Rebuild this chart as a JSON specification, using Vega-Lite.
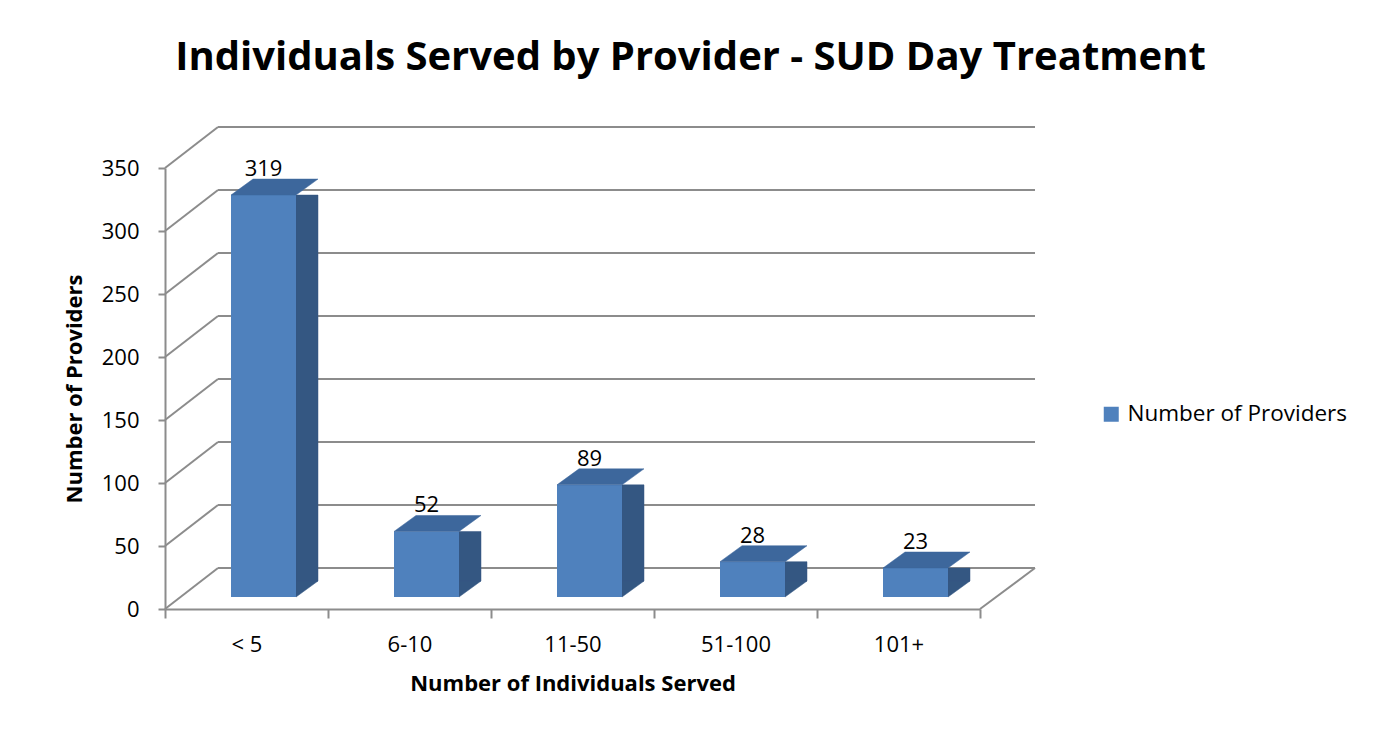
{
  "$schema": "https://vega.github.io/schema/vega-lite/v6.json",
  "width": 815,
  "height": 441,
  "autosize": {"type": "none"},
  "padding": {"left": 165, "top": 168, "right": 395, "bottom": 127},
  "background": "white",
  "config": {
    "view": {"stroke": null},
    "font": "Open Sans",
    "axis": {
      "labelFont": "Open Sans",
      "labelFontSize": 22,
      "labelColor": "#000000",
      "titleFont": "Open Sans",
      "titleFontSize": 22,
      "titleFontWeight": "bold",
      "titleColor": "#000000",
      "domainColor": "#8C8C8C",
      "domainWidth": 2,
      "tickColor": "#8C8C8C",
      "tickWidth": 2,
      "grid": false
    },
    "axisX": {
      "labelAngle": 0,
      "tickBand": "extent",
      "tickSize": 9,
      "labelPadding": 16,
      "titlePadding": 18
    },
    "axisY": {
      "tickSize": 7,
      "labelPadding": 19,
      "titlePadding": 15
    }
  },
  "title": {
    "text": "Individuals Served by Provider - SUD Day Treatment",
    "font": "Open Sans",
    "fontSize": 40,
    "fontWeight": "bold",
    "color": "#000000",
    "anchor": "middle",
    "frame": "group",
    "dx": 118,
    "offset": 48
  },
  "datasets": {
    "bars": [
      {"category": "< 5", "providers": 319},
      {"category": "6-10", "providers": 52},
      {"category": "11-50", "providers": 89},
      {"category": "51-100", "providers": 28},
      {"category": "101+", "providers": 23}
    ],
    "grid": [
      {"v": 0}, {"v": 50}, {"v": 100}, {"v": 150},
      {"v": 200}, {"v": 250}, {"v": 300}, {"v": 350}
    ]
  },
  "layer": [
    {
      "data": {"name": "grid"},
      "mark": {"type": "rule", "color": "#8C8C8C", "strokeWidth": 2, "xOffset": -81.5, "x2Offset": -28.5, "y2Offset": -41},
      "encoding": {
        "x": {"datum": "< 5", "type": "nominal", "scale": {"domain": ["< 5", "6-10", "11-50", "51-100", "101+"], "paddingInner": 0, "paddingOuter": 0}, "axis": {"title": "Number of Individuals Served"}},
        "x2": {"datum": "< 5"},
        "y": {"field": "v", "type": "quantitative", "scale": {"domain": [0, 350], "nice": false, "zero": true}, "axis": {"title": "Number of Providers", "values": [0, 50, 100, 150, 200, 250, 300, 350]}},
        "y2": {"field": "v"}
      }
    },
    {
      "data": {"name": "grid"},
      "mark": {"type": "rule", "color": "#8C8C8C", "strokeWidth": 2, "xOffset": -28.5, "x2Offset": 136.5, "yOffset": -41, "y2Offset": -41},
      "encoding": {
        "x": {"datum": "< 5", "type": "nominal", "axis": {"title": "Number of Individuals Served"}},
        "x2": {"datum": "101+"},
        "y": {"field": "v", "type": "quantitative", "axis": {"title": "Number of Providers", "values": [0, 50, 100, 150, 200, 250, 300, 350]}},
        "y2": {"field": "v"}
      }
    },
    {
      "data": {"name": "grid"},
      "transform": [{"filter": "datum.v == 0"}],
      "mark": {"type": "rule", "color": "#8C8C8C", "strokeWidth": 2, "xOffset": 81.5, "x2Offset": 136.5, "y2Offset": -41},
      "encoding": {
        "x": {"datum": "101+", "type": "nominal", "axis": {"title": "Number of Individuals Served"}},
        "x2": {"datum": "101+"},
        "y": {"field": "v", "type": "quantitative", "axis": {"title": "Number of Providers", "values": [0, 50, 100, 150, 200, 250, 300, 350]}},
        "y2": {"field": "v"}
      }
    },
    {
      "data": {"name": "bars"},
      "mark": {"type": "bar", "width": 22, "xOffset": 60.5, "yOffset": -12, "y2Offset": -28, "color": "#345782", "stroke": "#345782", "strokeWidth": 0.5},
      "encoding": {
        "x": {"field": "category", "type": "nominal", "axis": {"title": "Number of Individuals Served"}},
        "y": {"field": "providers", "type": "quantitative", "axis": {"title": "Number of Providers", "values": [0, 50, 100, 150, 200, 250, 300, 350]}},
        "y2": {"datum": 0}
      }
    },
    {
      "data": {"name": "bars"},
      "mark": {"type": "point", "shape": "M49.5,-16L71.5,-16L49.5,0Z", "size": 4, "filled": true, "opacity": 1, "color": "#345782", "stroke": "#345782", "strokeWidth": 0.5, "yOffset": -12},
      "encoding": {
        "x": {"field": "category", "type": "nominal", "axis": {"title": "Number of Individuals Served"}},
        "y": {"datum": 0, "type": "quantitative", "axis": {"title": "Number of Providers", "values": [0, 50, 100, 150, 200, 250, 300, 350]}}
      }
    },
    {
      "data": {"name": "bars"},
      "mark": {"type": "bar", "width": 65, "xOffset": 17, "yOffset": -12, "y2Offset": -12},
      "encoding": {
        "x": {"field": "category", "type": "nominal", "axis": {"title": "Number of Individuals Served"}},
        "y": {"field": "providers", "type": "quantitative", "axis": {"title": "Number of Providers", "values": [0, 50, 100, 150, 200, 250, 300, 350]}},
        "y2": {"datum": 0},
        "fill": {
          "datum": "Number of Providers",
          "type": "nominal",
          "scale": {"range": ["#4F81BD"]},
          "legend": {
            "title": null,
            "orient": "none",
            "legendX": 935,
            "legendY": 235,
            "padding": 0,
            "symbolType": "square",
            "symbolSize": 225,
            "symbolStrokeWidth": 0,
            "labelFont": "Open Sans",
            "labelFontSize": 22.5,
            "labelColor": "#000000",
            "labelLimit": 400,
            "labelOffset": 5
          }
        }
      }
    },
    {
      "data": {"name": "bars"},
      "mark": {"type": "point", "shape": "M-15.5,0L49.5,0L71.5,-16L6.5,-16Z", "size": 4, "filled": true, "opacity": 1, "color": "#3D679C", "stroke": "#3D679C", "strokeWidth": 0.5, "yOffset": -12},
      "encoding": {
        "x": {"field": "category", "type": "nominal", "axis": {"title": "Number of Individuals Served"}},
        "y": {"field": "providers", "type": "quantitative", "axis": {"title": "Number of Providers", "values": [0, 50, 100, 150, 200, 250, 300, 350]}}
      }
    },
    {
      "data": {"name": "bars"},
      "mark": {"type": "text", "font": "Open Sans", "fontSize": 22, "color": "#000000", "baseline": "alphabetic", "align": "center", "xOffset": 17, "yOffset": -31},
      "encoding": {
        "x": {"field": "category", "type": "nominal", "axis": {"title": "Number of Individuals Served"}},
        "y": {"field": "providers", "type": "quantitative", "axis": {"title": "Number of Providers", "values": [0, 50, 100, 150, 200, 250, 300, 350]}},
        "text": {"field": "providers", "type": "quantitative"}
      }
    }
  ]
}
